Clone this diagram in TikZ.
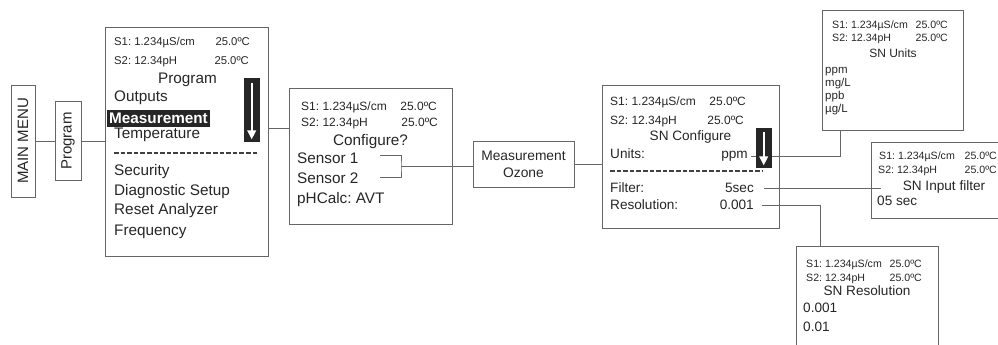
\documentclass[tikz,border=0pt]{standalone}
\usepackage{fontspec}
\setmainfont{Liberation Sans}
\usetikzlibrary{arrows.meta}
\frenchspacing

\begin{document}
\begin{tikzpicture}[x=1pt, y=-1pt,
  screen/.style={draw=black!60, line width=0.9pt, anchor=north west, inner sep=0pt},
  tab/.style={draw=black!60, line width=0.9pt, inner sep=0pt, text=black!85, font=\fontsize{15}{18}\selectfont},
  conn/.style={draw=black!60, line width=0.9pt},
  txt/.style={anchor=mid west, inner sep=0pt, text=black!85},
  readout/.style={txt, font=\fontsize{10.6}{12}\selectfont},
  readoutM/.style={txt, font=\fontsize{11.3}{13}\selectfont},
  readoutL/.style={txt, font=\fontsize{12}{14}\selectfont},
  menu/.style={txt, font=\fontsize{15.3}{18}\selectfont},
  item/.style={txt, font=\fontsize{13.6}{16}\selectfont},
  list/.style={txt, font=\fontsize{11.5}{14}\selectfont},
  rule/.style={black!75, line width=2pt, dash pattern=on 4.6pt off 2pt},
  scroll/.style={fill=black!85, draw=black!85, anchor=north west, inner sep=0pt},
  scrollarrow/.style={white, line width=2pt, -{Triangle[width=8.5pt,length=9pt]}}]

  \useasboundingbox (0,0) rectangle (998,345);
  \clip (0,0) rectangle (998,345);

  % menu tabs
  \node[tab, rotate=90, minimum width=112pt, minimum height=24pt] (mainmenu) at (23,141) {MAIN MENU};
  \node[tab, rotate=90, minimum width=79pt, minimum height=26pt] (progtab) at (68,141) {Program};

  % screen frames
  \node[screen, minimum width=163pt, minimum height=229pt] (progscr) at (105,27) {};
  \node[screen, minimum width=163pt, minimum height=136pt] (confscr) at (289,88) {};
  \node[tab, minimum width=101pt, minimum height=46pt, align=center, font=\fontsize{13.8}{17}\selectfont] (ozone) at (523.5,164) {Measurement\\Ozone};
  \node[screen, minimum width=177pt, minimum height=143pt] (cfgscr) at (602,85) {};
  \node[screen, minimum width=141pt, minimum height=120pt] (unitsscr) at (822,10) {};
  \node[screen, minimum width=140pt, minimum height=76pt] (filterscr) at (871,142) {};
  \node[screen, minimum width=142pt, minimum height=110pt] (resscr) at (796,246) {};

  % Program screen
  \node[readoutM] (prog-s1) at (114,43) {S1: 1.234µS/cm};
  \node[readoutM, anchor=mid east] (prog-t1) at (250,43) {25.0ºC};
  \node[readoutM] (prog-s2) at (114,62) {S2: 12.34pH};
  \node[readoutM, anchor=mid east] (prog-t2) at (249,62) {25.0ºC};
  \node[menu, anchor=mid] (prog-title) at (187.5,81) {Program};
  \node[menu] (prog-out) at (114,99) {Outputs};
  \node[anchor=west, fill=black!85, text=white, inner xsep=2pt, inner ysep=0pt, minimum height=17pt,
        font=\fontsize{15.3}{18}\selectfont\bfseries] (prog-meas) at (107,118) {Measurement};
  \node[menu] (prog-temp) at (114,136) {Temperature};
  \draw[rule] (114,153) -- (258,153);
  \node[menu] (prog-sec) at (114,173) {Security};
  \node[menu] (prog-diag) at (114,193) {Diagnostic Setup};
  \node[menu] (prog-reset) at (114,212) {Reset Analyzer};
  \node[menu] (prog-freq) at (114,233) {Frequency};
  \node[scroll, minimum width=15pt, minimum height=63pt] (progbar) at (244,78) {};
  \draw[scrollarrow] ([yshift=-5pt]progbar.north) -- ([yshift=2pt]progbar.south);

  % Configure screen
  \node[readoutL] (conf-s1) at (301,108) {S1: 1.234µS/cm};
  \node[readoutL, anchor=mid east] (conf-t1) at (437,108) {25.0ºC};
  \node[readoutL] (conf-s2) at (301,124) {S2: 12.34pH};
  \node[readoutL, anchor=mid east] (conf-t2) at (438,124) {25.0ºC};
  \node[menu, anchor=mid] (conf-title) at (370.5,143) {Configure?};
  \node[menu] (conf-sn1) at (297,161) {Sensor 1};
  \node[menu] (conf-sn2) at (297,181) {Sensor 2};
  \node[menu] (conf-ph) at (297,201) {pHCalc: AVT};

  % SN Configure screen
  \node[readoutL] (cfg-s1) at (610,103) {S1: 1.234µS/cm};
  \node[readoutL, anchor=mid east] (cfg-t1) at (746,103) {25.0ºC};
  \node[readoutL] (cfg-s2) at (610,122) {S2: 12.34pH};
  \node[readoutL, anchor=mid east] (cfg-t2) at (744,122) {25.0ºC};
  \node[item, anchor=mid] (cfg-title) at (690.5,138) {SN Configure};
  \node[item] (cfg-units) at (610,156) {Units:};
  \node[item, anchor=mid east] (cfg-ppm) at (748,156) {ppm};
  \draw[rule] (610,171) -- (762,171);
  \node[item] (cfg-filter) at (610,190) {Filter:};
  \node[item, anchor=mid east] (cfg-5sec) at (754,190) {5sec};
  \node[item] (cfg-res) at (610,207) {Resolution:};
  \node[item, anchor=mid east] (cfg-001) at (754,207) {0.001};

  % SN Units screen
  \node[readout] (un-s1) at (832,26) {S1: 1.234µS/cm};
  \node[readout, anchor=mid east] (un-t1) at (948,26) {25.0ºC};
  \node[readout] (un-s2) at (832,39) {S2: 12.34pH};
  \node[readout, anchor=mid east] (un-t2) at (948,39) {25.0ºC};
  \node[readoutL, anchor=mid] (un-title) at (893,55) {SN Units};
  \node[list] (un-ppm) at (825,71) {ppm};
  \node[list] (un-mgl) at (825,83.5) {mg/L};
  \node[list] (un-ppb) at (825,97) {ppb};
  \node[list] (un-ugl) at (825,110) {µg/L};

  % SN Input filter screen
  \node[readout] (fi-s1) at (879,157) {S1: 1.234µS/cm};
  \node[readout, anchor=mid east] (fi-t1) at (997,157) {25.0ºC};
  \node[readout] (fi-s2) at (878,171) {S2: 12.34pH};
  \node[readout, anchor=mid east] (fi-t2) at (997,171) {25.0ºC};
  \node[item, anchor=mid] (fi-title) at (944,188) {SN Input filter};
  \node[item] (fi-val) at (877,203) {05 sec};

  % SN Resolution screen
  \node[readout] (re-s1) at (806,265) {S1: 1.234µS/cm};
  \node[readout, anchor=mid east] (re-t1) at (922,265) {25.0ºC};
  \node[readout] (re-s2) at (806,279) {S2: 12.34pH};
  \node[readout, anchor=mid east] (re-t2) at (922,279) {25.0ºC};
  \node[item, anchor=mid] (re-title) at (867,293) {SN Resolution};
  \node[item] (re-a) at (803,310) {0.001};
  \node[item] (re-b) at (803,329) {0.01};

  % connectors
  \coordinate (p-out) at (268,128);
  \coordinate (brk) at (401,166);
  \coordinate (brk-a) at (380,155);
  \coordinate (brk-b) at (380,177);
  \draw[conn] (mainmenu) -- (progtab);
  \draw[conn] (progtab) -- (progtab -| progscr.west);
  \draw[conn] (p-out) -- (p-out -| confscr.west);
  \draw[conn] (brk-a) -| (brk) |- (brk-b);
  \draw[conn] (brk) -- (brk -| ozone.west);
  \draw[conn] (ozone.east) -- (ozone.east -| cfgscr.west);
  \draw[conn] ([xshift=3pt]cfg-ppm.east) -| ([xshift=-52.5pt]unitsscr.south);
  \draw[conn] ([xshift=10pt]cfg-5sec.east) -- ([xshift=10pt]cfg-5sec.east -| filterscr.west);
  \draw[conn] ([xshift=8pt]cfg-001.east) -| ([xshift=-47pt]resscr.north);

  \node[scroll, minimum width=15pt, minimum height=39pt] (cfgbar) at (756,128) {};
  \draw[scrollarrow] ([yshift=-4pt]cfgbar.north) -- ([yshift=2pt]cfgbar.south);
\end{tikzpicture}
\end{document}
